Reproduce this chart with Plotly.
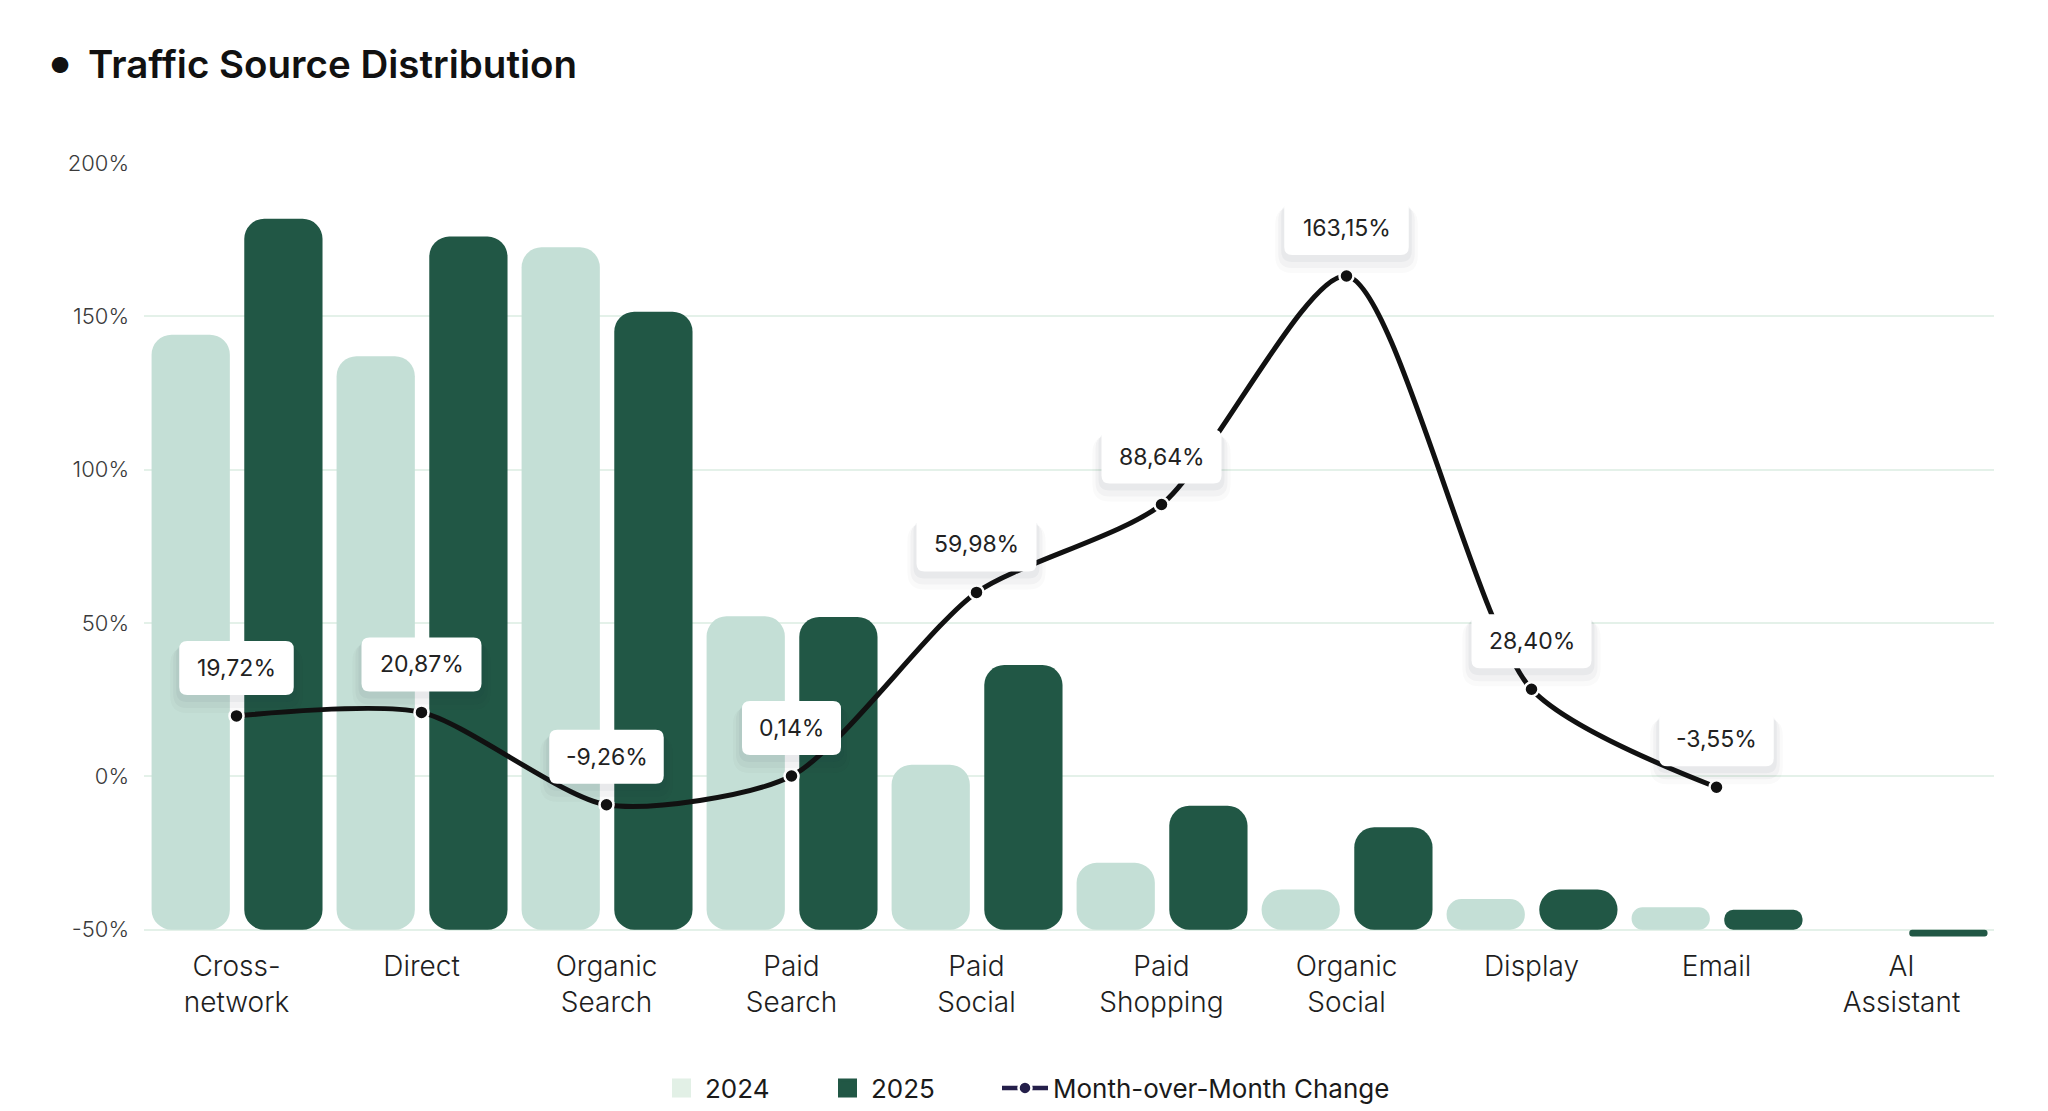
import plotly.graph_objects as go

# ---------------- data ----------------
categories = ["Cross-network", "Direct", "Organic Search", "Paid Search", "Paid Social",
              "Paid Shopping", "Organic Social", "Display", "Email", "AI Assistant"]
tick_labels = ["Cross-<br>network", "Direct", "Organic<br>Search", "Paid<br>Search", "Paid<br>Social",
               "Paid<br>Shopping", "Organic<br>Social", "Display", "Email", "AI<br>Assistant"]
# bar heights on the (hidden) volume axis, 0 .. 250
bars_2024 = [194.0, 187.0, 222.5, 102.2, 53.8, 21.8, 13.1, 10.0, 7.3, None]
bars_2025 = [231.8, 226.0, 201.5, 102.0, 86.3, 40.4, 33.4, 13.1, 6.5, -2.2]
# month-over-month change, %
mom_change = [19.72, 20.87, -9.26, 0.14, 59.98, 88.64, 163.15, 28.40, -3.55, None]
pct_ticks = [-50, 0, 50, 100, 150, 200]
bar_axis_max = 250
pct_axis_range = [-50, 200]

# ---------------- style ----------------
W, H = 2048, 1111
M_L, M_R, M_T = 144, 54, 163
BASE_PLOT_H = 767                      # height of the -50%..200% band
PX_PER_UNIT = BASE_PLOT_H / bar_axis_max
EXT = 4                                 # extra room below the baseline (units)
PLOT_H = BASE_PLOT_H + EXT * PX_PER_UNIT
M_B = H - M_T - PLOT_H
C24, C25 = "#C4DFD6", "#215745"
LINE_C = "#111111"
GRID_C = "#E4F1E9"
FONT = "Inter"
BAR_W = 0.423
OFFS = {"2024": -0.459, "2025": 0.042}
RADIUS = 20

fig = go.Figure()

x_idx = list(range(len(categories)))

# bars: an explicit base makes Plotly round both ends of each bar
for name, vals, col in (("2024", bars_2024, C24), ("2025", bars_2025, C25)):
    for i, v in enumerate(vals):
        if v is None or v == 0:
            continue
        h_px = abs(v) * PX_PER_UNIT
        r = min(RADIUS, h_px / 2)
        fig.add_trace(go.Bar(x=[i], y=[v], base=[0], width=[BAR_W], offset=[OFFS[name]],
                             yaxis="y", marker=dict(color=col, cornerradius=r, line=dict(width=0)),
                             showlegend=False, hoverinfo="skip", cliponaxis=False))

# line
fig.add_trace(go.Scatter(
    x=x_idx, y=mom_change, yaxis="y2", mode="lines+markers",
    line=dict(color=LINE_C, width=5, shape="spline", smoothing=0.7),
    marker=dict(size=14, color=LINE_C, line=dict(color="white", width=2.5)),
    showlegend=False, hoverinfo="skip", connectgaps=False, cliponaxis=False))

# legend-only entries (three single-item legends)
fig.add_trace(go.Scatter(x=[None], y=[None], name="2024", mode="markers", legend="legend",
                         marker=dict(symbol="square", size=16, color="#E2F0E6",
                                     line=dict(color="#E2F0E6", width=3))))
fig.add_trace(go.Scatter(x=[None], y=[None], name="2025", mode="markers", legend="legend2",
                         marker=dict(symbol="square", size=16, color=C25,
                                     line=dict(color=C25, width=3))))
fig.add_trace(go.Scatter(x=[None], y=[None], name="Month-over-Month Change", mode="lines+markers",
                         legend="legend3",
                         line=dict(color="#241F4A", width=4.5),
                         marker=dict(size=13, color="#241F4A", line=dict(color="white", width=2.5))))

# label boxes + texts
def char_w(c):
    return {"1": 10, ",": 6, "%": 22, "-": 10}.get(c, 15.5)

shapes, annotations = [], []
BOX_H, BOX_GAP, BR = 54, 21, 8

def rrect(x0, y0, x1, y1, r):
    return (f"M{x0+r},{y0} L{x1-r},{y0} Q{x1},{y0} {x1},{y0+r} L{x1},{y1-r} "
            f"Q{x1},{y1} {x1-r},{y1} L{x0+r},{y1} Q{x0},{y1} {x0},{y1-r} "
            f"L{x0},{y0+r} Q{x0},{y0} {x0+r},{y0} Z")

for i, v in enumerate(mom_change):
    if v is None:
        continue
    label = f"{v:.2f}".replace(".", ",") + "%"
    w = 30 + sum(char_w(c) for c in label)
    y0, y1 = BOX_GAP, BOX_GAP + BOX_H
    base = dict(type="path", xref="x", yref="y2", xsizemode="pixel", ysizemode="pixel",
                xanchor=i, yanchor=v, layer="above", line=dict(width=0))
    for grow, drop, a in ((9, 9, 0.025), (6, 7, 0.035), (3, 4, 0.045)):
        shapes.append(dict(path=rrect(-w/2 - grow, y0 - drop - grow, w/2 + grow, y1 - drop + grow * 0.3, BR + grow),
                           fillcolor=f"rgba(30,40,60,{a})", **base))
    shapes.append(dict(path=rrect(-w/2, y0, w/2, y1, BR), fillcolor="white", **base))
    annotations.append(dict(x=i, y=v, xref="x", yref="y2", yshift=BOX_GAP + BOX_H/2,
                            text=label, showarrow=False, xanchor="center", yanchor="middle",
                            font=dict(family=FONT, size=23, color="#222222")))

# title bullet
annotations.append(dict(xref="paper", yref="paper", x=(60 - M_L) / (W - M_L - M_R),
                        y=(H - M_B - 65) / PLOT_H, text="●", showarrow=False,
                        xanchor="center", yanchor="middle",
                        font=dict(family=FONT, size=22, color="#111111")))

legend_common = dict(orientation="h", xref="container", yref="container",
                     xanchor="left", y=1 - 1088 / H, yanchor="middle",
                     font=dict(family=FONT, size=26, color="#1A1A1A", weight=400),
                     bgcolor="rgba(0,0,0,0)")

fig.update_layout(
    width=W, height=H,
    margin=dict(l=M_L, r=M_R, t=M_T, b=M_B, autoexpand=False),
    paper_bgcolor="white", plot_bgcolor="white",
    barmode="overlay",
    title=dict(text="Traffic Source Distribution", xref="container", yref="container",
               x=88 / W, xanchor="left", y=1 - 65 / H, yanchor="middle",
               font=dict(family=FONT, size=38.5, color="#111111", weight=600)),
    xaxis=dict(range=[-0.5, len(categories) - 0.5], tickvals=x_idx, ticktext=tick_labels,
               showgrid=False, zeroline=False, showline=False, ticks="",
               ticklabelstandoff=5,
               tickfont=dict(family=FONT, size=28, color="#1E1E1E", weight=300)),
    yaxis=dict(range=[-EXT, bar_axis_max], visible=False, fixedrange=True),
    yaxis2=dict(range=[pct_axis_range[0] - EXT, pct_axis_range[1]], overlaying="y",
                side="left", anchor="x",
                tickvals=pct_ticks, ticktext=[f"{t}%" for t in pct_ticks],
                showgrid=True, gridcolor=GRID_C, gridwidth=2, zeroline=False,
                showline=False, ticks="", ticklabelstandoff=14,
                tickfont=dict(family=FONT, size=22, color="#3A3A3A", weight=300)),
    legend=dict(x=658 / W, itemwidth=37, **legend_common),
    legend2=dict(x=824 / W, itemwidth=37, **legend_common),
    legend3=dict(x=997 / W, itemwidth=46, **legend_common),
    shapes=shapes, annotations=annotations,
    hovermode=False,
)

fig.write_html("out.html", config={"displayModeBar": False},
               post_script="document.body.style.margin='0';")
